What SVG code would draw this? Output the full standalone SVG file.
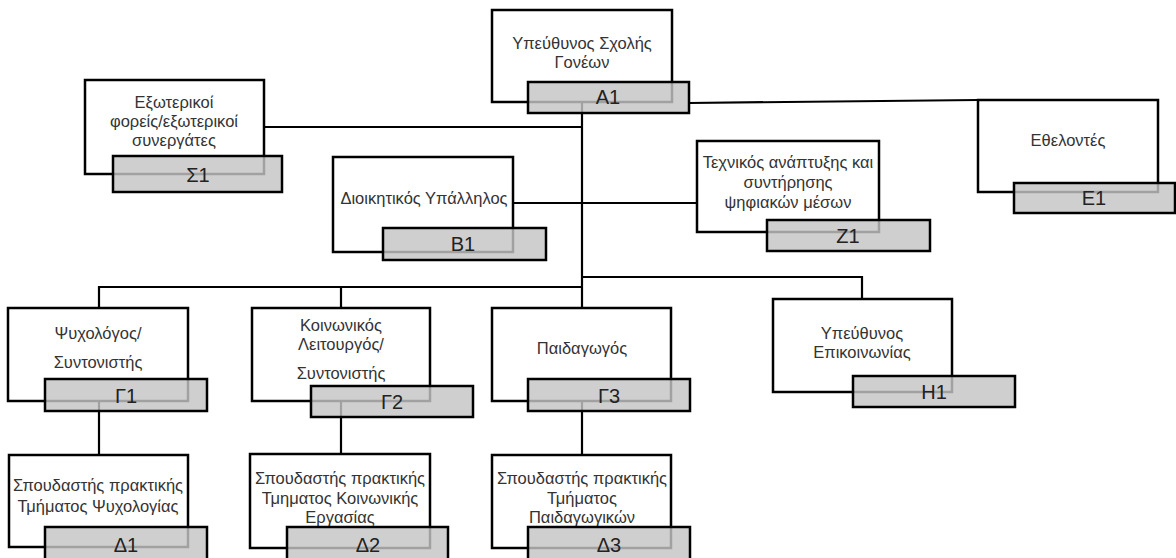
<svg xmlns="http://www.w3.org/2000/svg" width="1176" height="558" viewBox="0 0 1176 558">
<style>
.box{fill:#fff;stroke:#000;stroke-width:2.5}
.bar{fill:#c4c4c4;fill-opacity:0.82;stroke:#000;stroke-width:2.5}
.t{font-family:"Liberation Sans","Noto Sans",sans-serif;font-size:16.5px;fill:#333;text-anchor:middle}
.l{font-family:"Liberation Sans","Noto Sans",sans-serif;font-size:20px;fill:#222;text-anchor:middle}
.c{fill:none;stroke:#000;stroke-width:2.2}
</style>
<rect width="1176" height="558" fill="#fff"/>
<g id="connectors">
<path class="c" d="M582 103V308"/>
<path class="c" d="M689 103L978 100"/>
<path class="c" d="M264 127H582"/>
<path class="c" d="M513 203H697"/>
<path class="c" d="M582 277H862V299"/>
<path class="c" d="M99 308V287H582M341 287V308"/>
<path class="c" d="M99 401V455"/>
<path class="c" d="M341 401V454"/>
<path class="c" d="M582 401V455"/>
</g>
<g id="nodeA1">
<rect class="box" x="492" y="10" width="180" height="92"/>
<text class="t" x="582" y="49">Υπεύθυνος Σχολής</text>
<text class="t" x="582" y="68">Γονέων</text>
<rect class="bar" x="528" y="82" width="161" height="31"/>
<text class="l" x="608" y="104">A1</text>
</g>
<g id="nodeS1">
<rect class="box" x="85" y="80" width="179" height="94"/>
<text class="t" x="174" y="108">Εξωτερικοί</text>
<text class="t" x="174" y="127">φορείς/εξωτερικοί</text>
<text class="t" x="174" y="146">συνεργάτες</text>
<rect class="bar" x="113" y="156" width="169" height="36"/>
<text class="l" x="198" y="182">Σ1</text>
</g>
<g id="nodeB1">
<rect class="box" x="333" y="157" width="180" height="95"/>
<text class="t" x="424" y="204">Διοικητικός Υπάλληλος</text>
<rect class="bar" x="383" y="228" width="163" height="32"/>
<text class="l" x="463" y="251">B1</text>
</g>
<g id="nodeZ1">
<rect class="box" x="697" y="141" width="182" height="91"/>
<text class="t" x="788" y="168">Τεχνικός ανάπτυξης και</text>
<text class="t" x="788" y="188">συντήρησης</text>
<text class="t" x="788" y="208">ψηφιακών μέσων</text>
<rect class="bar" x="767" y="220" width="163" height="31"/>
<text class="l" x="848" y="243">Z1</text>
</g>
<g id="nodeE1">
<rect class="box" x="978" y="100" width="180" height="92"/>
<text class="t" x="1068" y="146">Εθελοντές</text>
<rect class="bar" x="1014" y="183" width="161" height="30"/>
<text class="l" x="1094" y="205">E1</text>
</g>
<g id="nodeG1">
<rect class="box" x="8" y="308" width="180" height="93"/>
<text class="t" x="98" y="339">Ψυχολόγος/</text>
<text class="t" x="98" y="368">Συντονιστής</text>
<rect class="bar" x="45" y="379" width="162" height="32"/>
<text class="l" x="126" y="403">Γ1</text>
</g>
<g id="nodeG2">
<rect class="box" x="252" y="308" width="178" height="93"/>
<text class="t" x="341" y="331">Κοινωνικός</text>
<text class="t" x="341" y="350">Λειτουργός/</text>
<text class="t" x="341" y="379">Συντονιστής</text>
<rect class="bar" x="311" y="386" width="162" height="31"/>
<text class="l" x="392" y="409">Γ2</text>
</g>
<g id="nodeG3">
<rect class="box" x="492" y="308" width="179" height="93"/>
<text class="t" x="582" y="354">Παιδαγωγός</text>
<rect class="bar" x="528" y="379" width="162" height="32"/>
<text class="l" x="609" y="403">Γ3</text>
</g>
<g id="nodeH1">
<rect class="box" x="773" y="299" width="179" height="93"/>
<text class="t" x="862" y="339">Υπεύθυνος</text>
<text class="t" x="862" y="358">Επικοινωνίας</text>
<rect class="bar" x="853" y="376" width="162" height="31"/>
<text class="l" x="934" y="399">H1</text>
</g>
<g id="nodeD1">
<rect class="box" x="9" y="455" width="179" height="92"/>
<text class="t" x="98" y="491">Σπουδαστής πρακτικής</text>
<text class="t" x="98" y="512">Τμήματος Ψυχολογίας</text>
<rect class="bar" x="45" y="527" width="162" height="36"/>
<text class="l" x="126" y="552">Δ1</text>
</g>
<g id="nodeD2">
<rect class="box" x="250" y="454" width="180" height="94"/>
<text class="t" x="340" y="484">Σπουδαστής πρακτικής</text>
<text class="t" x="340" y="504">Τμηματος Κοινωνικής</text>
<text class="t" x="340" y="523">Εργασίας</text>
<rect class="bar" x="287" y="527" width="161" height="36"/>
<text class="l" x="368" y="552">Δ2</text>
</g>
<g id="nodeD3">
<rect class="box" x="492" y="455" width="179" height="93"/>
<text class="t" x="582" y="484">Σπουδαστής πρακτικής</text>
<text class="t" x="582" y="504">Τμήματος</text>
<text class="t" x="582" y="523">Παιδαγωγικών</text>
<rect class="bar" x="528" y="527" width="162" height="36"/>
<text class="l" x="609" y="552">Δ3</text>
</g>
</svg>
